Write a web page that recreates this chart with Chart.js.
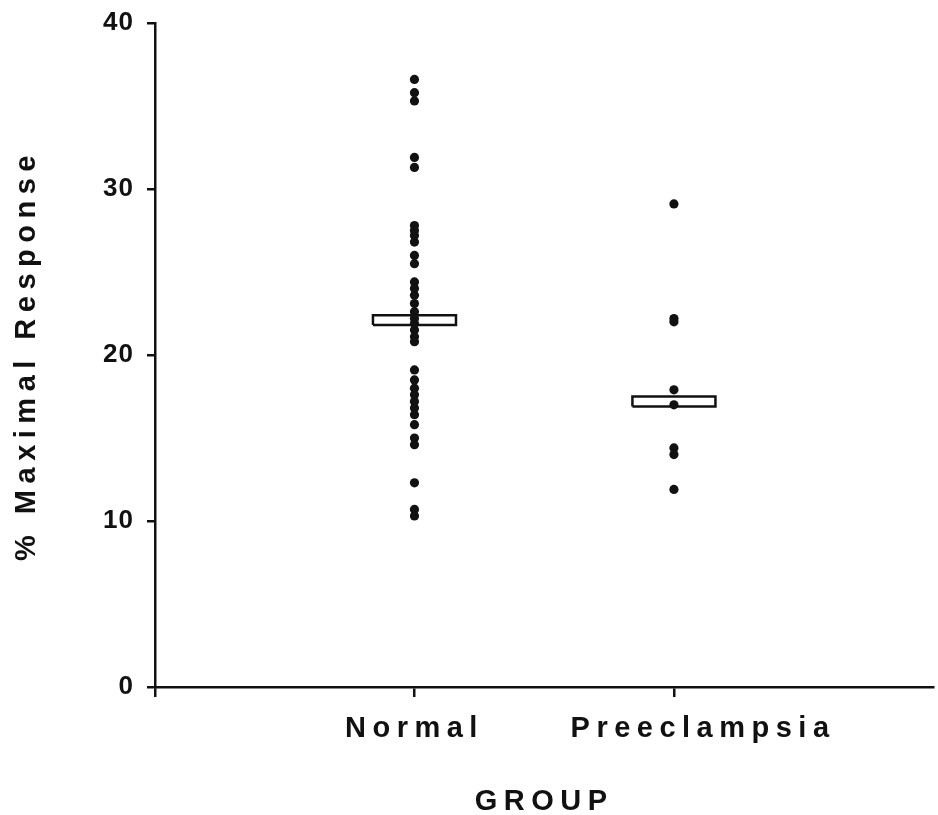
<!DOCTYPE html>
<html>
<head>
<meta charset="utf-8">
<script src="https://cdn.jsdelivr.net/npm/chart.js@4/dist/chart.umd.min.js"></script>
<style>
  html, body { margin: 0; padding: 0; background: #fff; }
  canvas { display: block; }
</style>
</head>
<body>
<canvas id="responseChart" width="938" height="815"></canvas>
<script>
// ---- data ----
const GROUPS = ["Normal", "Preeclampsia"];
const GROUP_POS = [1, 2];
const X_TICKS = [0, 1, 2];
const Y_TICKS = [0, 10, 20, 30, 40];

const normalValues = [36.6, 35.8, 35.3, 31.9, 31.3, 27.8, 27.5, 27.2, 26.8, 26.0, 25.5,
  24.4, 24.0, 23.6, 23.1, 22.6, 22.2, 21.9, 21.5, 21.1, 20.8, 19.1, 18.5, 18.0,
  17.6, 17.2, 16.8, 16.4, 15.8, 15.0, 14.6, 12.3, 10.7, 10.3];
const preeclampsiaValues = [29.1, 22.2, 22.0, 17.9, 17.0, 14.4, 14.0, 11.9];

// mean bar (drawn as a thin open box)
const boxLow = [21.8, 16.9];
const boxHigh = [22.4, 17.5];

const BOX_HALF = 0.16;
const INK = "#111";
const FONT = "'Liberation Sans', Arial, Helvetica, sans-serif";
// in the original the second group label sits a bit right of its tick
const LABEL_LEAD = ["", "    "];

const dotsFor = (values, pos) => values.map((v) => ({ x: pos, y: v }));

const boxFor = (i) => {
  const x = GROUP_POS[i];
  return [
    { x: x - BOX_HALF, y: boxLow[i] },
    { x: x + BOX_HALF, y: boxLow[i] },
    { x: x + BOX_HALF, y: boxHigh[i] },
    { x: x - BOX_HALF, y: boxHigh[i] },
    { x: x - BOX_HALF, y: boxLow[i] },
  ];
};

// big labels in the original are letter-spaced; tick numbers only slightly
const spacingPlugin = {
  id: "spacing",
  beforeDraw: (chart) => { chart.ctx.letterSpacing = "6.5px"; },
  afterDatasetsDraw: (chart) => { chart.ctx.letterSpacing = "1px"; },
  afterDraw: (chart) => { chart.ctx.letterSpacing = "0px"; },
};

const dotStyle = {
  pointRadius: 4.6,
  pointBackgroundColor: INK,
  pointBorderWidth: 0,
  showLine: false,
  order: 0,
};

const boxStyle = {
  showLine: true,
  borderColor: INK,
  borderWidth: 2.5,
  pointRadius: 0,
  tension: 0,
  fill: false,
  order: 1,
};

new Chart(document.getElementById("responseChart").getContext("2d"), {
  type: "scatter",
  data: {
    datasets: [
      { label: GROUPS[0], data: dotsFor(normalValues, GROUP_POS[0]), ...dotStyle },
      { label: GROUPS[1], data: dotsFor(preeclampsiaValues, GROUP_POS[1]), ...dotStyle },
      { label: "mean " + GROUPS[0], data: boxFor(0), ...boxStyle },
      { label: "mean " + GROUPS[1], data: boxFor(1), ...boxStyle },
    ],
  },
  options: {
    responsive: false,
    animation: false,
    layout: { padding: { top: 23, right: 3, left: 0, bottom: 0 } },
    plugins: {
      legend: { display: false },
      tooltip: { enabled: false },
    },
    scales: {
      x: {
        type: "linear",
        min: 0,
        max: 3,
        afterBuildTicks: (scale) => { scale.ticks = X_TICKS.map((v) => ({ value: v })); },
        afterFit: (scale) => { scale.height = 128; },
        grid: {
          drawOnChartArea: false,
          tickLength: 10,
          color: INK,
          lineWidth: 2.5,
        },
        border: { color: INK, width: 2.5 },
        ticks: {
          color: INK,
          padding: 15,
          maxRotation: 0,
          minRotation: 0,
          autoSkip: false,
          font: { family: FONT, size: 29, weight: "bold" },
          callback: (v) => {
            const i = GROUP_POS.indexOf(v);
            return i >= 0 ? LABEL_LEAD[i] + GROUPS[i] : "";
          },
        },
        title: {
          display: true,
          text: "GROUP",
          color: INK,
          padding: { top: 0, bottom: -4 },
          font: { family: FONT, size: 29, weight: "bold" },
        },
      },
      y: {
        min: 0,
        max: 40,
        afterBuildTicks: (scale) => { scale.ticks = Y_TICKS.map((v) => ({ value: v })); },
        afterFit: (scale) => {
          scale.width = 155;
          scale.paddingTop = 0;
          scale.paddingBottom = 0;
        },
        grid: {
          drawOnChartArea: false,
          tickLength: 8,
          color: INK,
          lineWidth: 2.5,
        },
        border: { color: INK, width: 2.5 },
        ticks: {
          color: INK,
          padding: 13,
          z: 1,
          font: { family: FONT, size: 26, weight: "bold" },
        },
        title: {
          display: true,
          text: "% Maximal Response",
          color: INK,
          padding: { top: 10, bottom: 0 },
          font: { family: FONT, size: 29, weight: "bold" },
        },
      },
    },
  },
  plugins: [spacingPlugin],
});
</script>
</body>
</html>
